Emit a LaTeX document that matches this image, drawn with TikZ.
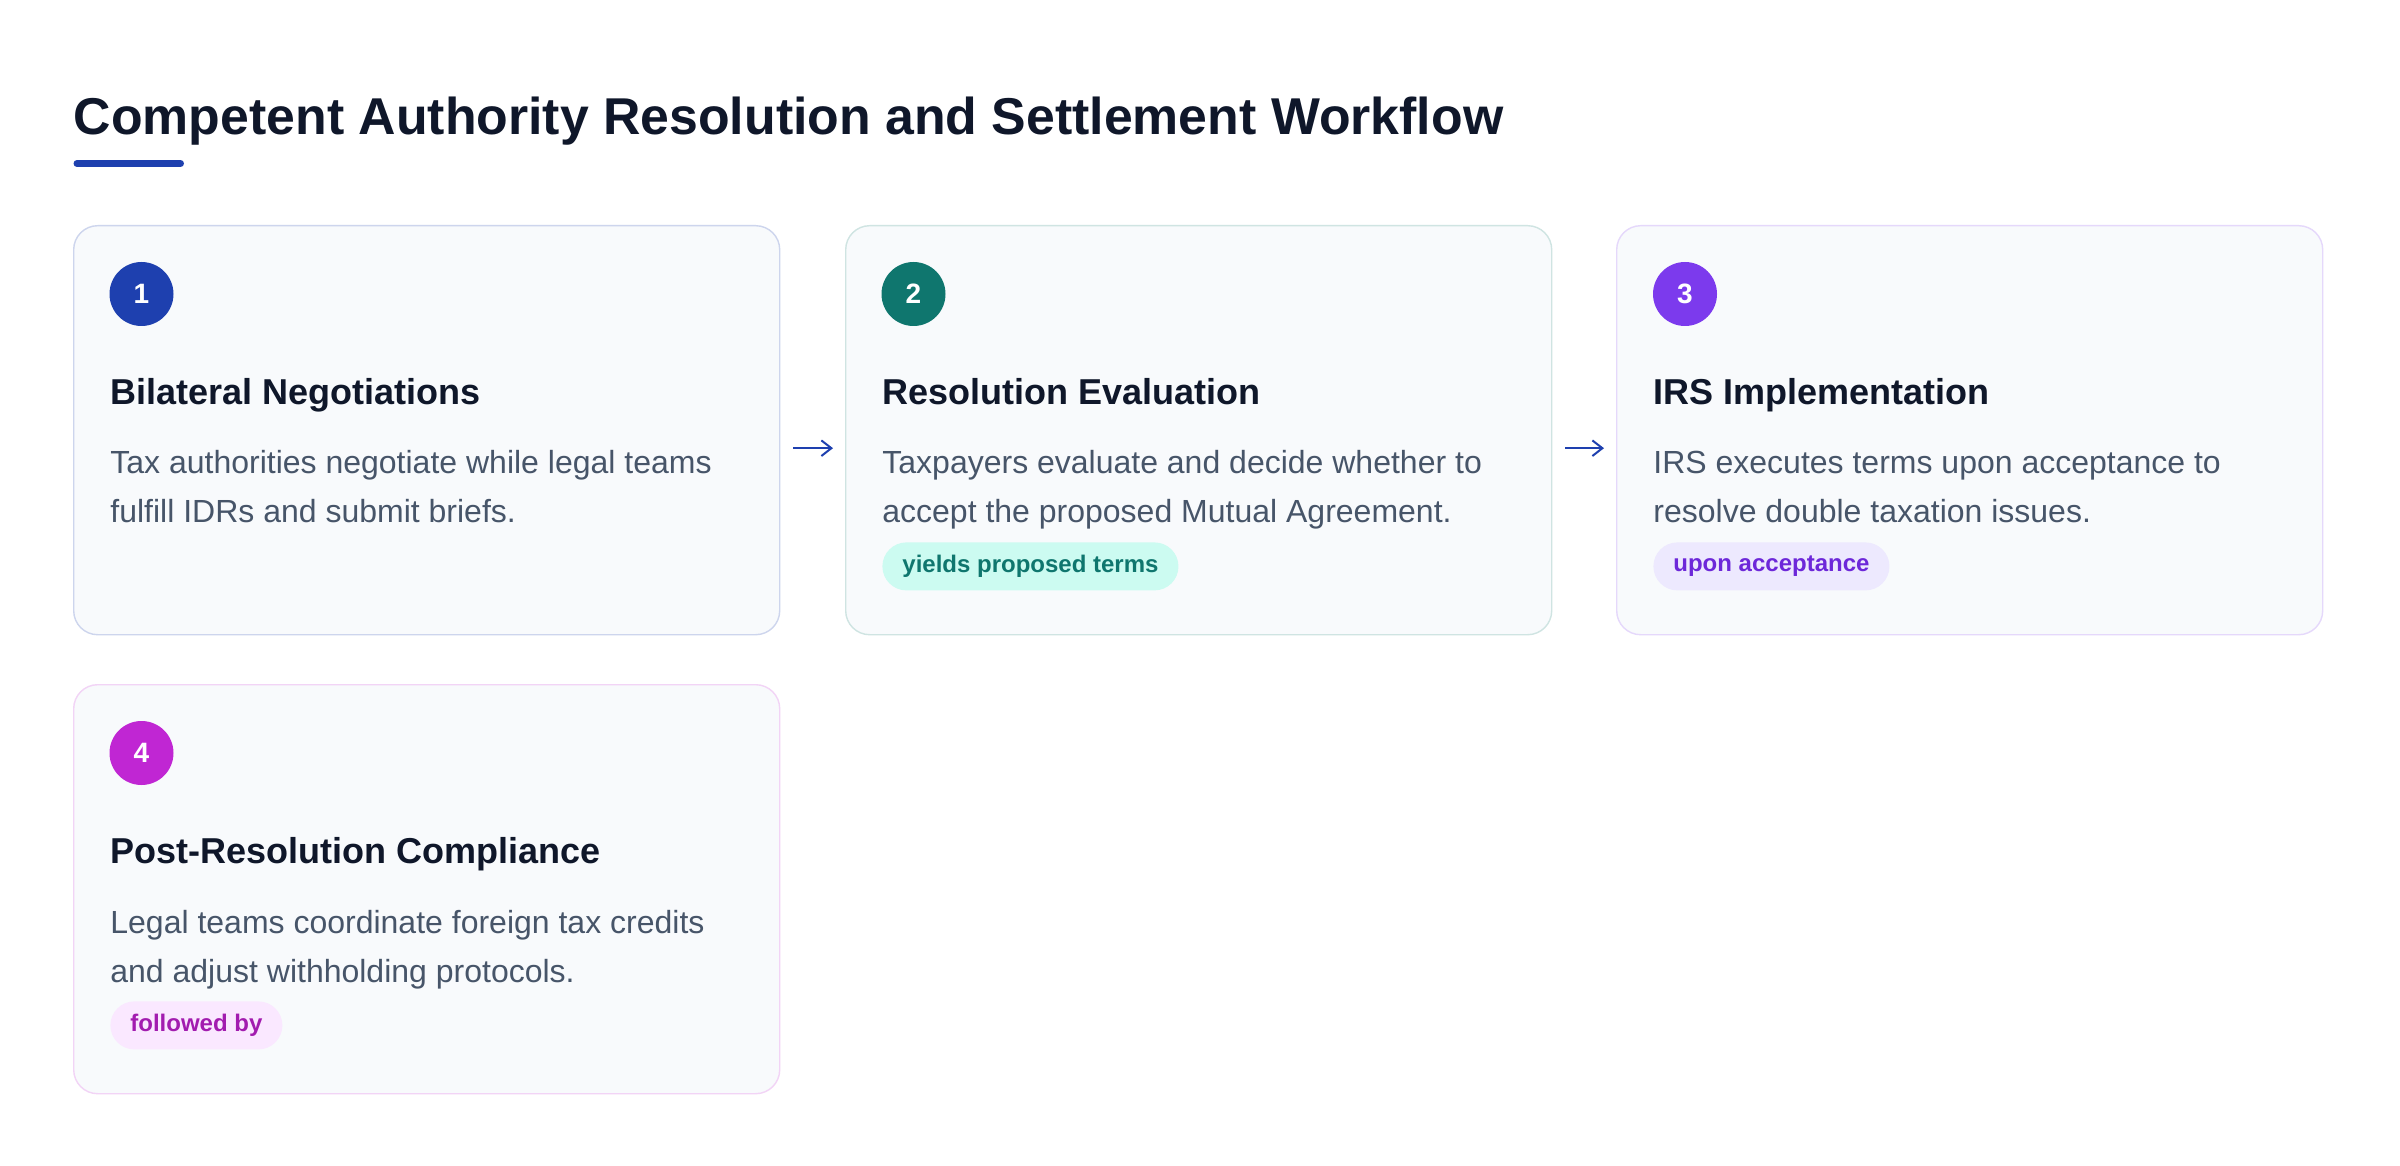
\documentclass[tikz,border=0pt]{standalone}
\usepackage{fontspec}
\setmainfont{Liberation Sans}
\usetikzlibrary{arrows.meta}
\definecolor{ink}{HTML}{0F172A}
\definecolor{slate}{HTML}{475569}
\definecolor{cardfill}{HTML}{F8FAFC}
\definecolor{stepblue}{HTML}{1E40AF}
\definecolor{stepteal}{HTML}{0F766E}
\definecolor{stepviolet}{HTML}{7C3AED}
\definecolor{stepfuchsia}{HTML}{C026D3}
\definecolor{tealtag}{HTML}{CCFBF1}
\definecolor{violettag}{HTML}{EDE9FE}
\definecolor{fuchsiatag}{HTML}{FAE8FF}
\definecolor{violettext}{HTML}{6D28D9}
\definecolor{fuchsiatext}{HTML}{A21CAF}
\tikzset{card/.style={draw,fill=cardfill,line width=0.7pt,rounded corners=12pt,
		minimum width=353pt,minimum height=204.5pt,anchor=north west,inner sep=0pt},
	number/.style={circle,minimum size=32pt,inner sep=0pt,text=white,
		font=\fontsize{14}{14}\selectfont\bfseries},
	heading/.style={anchor=base west,inner sep=0pt,text=ink,
		font=\fontsize{18}{18}\selectfont\bfseries},
	body/.style={anchor=base west,inner sep=0pt,text=slate,align=left,
		font=\fontsize{16}{24.2}\selectfont},
	tag/.style={rounded corners=12pt,inner xsep=10pt,inner ysep=0pt,minimum height=24pt,
		anchor=north west,font=\fontsize{12}{12}\selectfont\bfseries}}

\begin{document}
\begin{tikzpicture}[x=0.5pt,y=-0.5pt]
	\useasboundingbox[fill=white] (0,0) rectangle (2400,1166);
	% title
	\node[anchor=base west,inner sep=0pt,text=ink,font=\fontsize{25.9}{25.9}\selectfont\bfseries]
		(title) at (73.5,135) {Competent Authority Resolution and Settlement Workflow};
	\draw[stepblue,line width=3.5pt,line cap=round] (77,163.5) -- (180.5,163.5);
	% cards
	\node[card,draw=stepblue!22] (c1) at (73,225) {};
	\node[card,draw=stepteal!20] (c2) at (845,225) {};
	\node[card,draw=stepviolet!20] (c3) at (1616,225) {};
	\node[card,draw=stepfuchsia!20] (c4) at (73,684) {};
	% step 1
	\node[number,fill=stepblue] (n1) at (141.5,294) {1};
	\node[heading] (h1) at (110,404) {Bilateral Negotiations};
	\node[body] (b1) at (110,522) {Tax authorities negotiate while legal teams\\fulfill IDRs and submit briefs.};
	% step 2
	\node[number,fill=stepteal] (n2) at (913.5,294) {2};
	\node[heading] (h2) at (882,404) {Resolution Evaluation};
	\node[body] (b2) at (882,522) {Taxpayers evaluate and decide whether to\\accept the proposed Mutual Agreement.};
	\node[tag,fill=tealtag,text=stepteal] (t2) at (882,542) {yields proposed terms};
	% step 3
	\node[number,fill=stepviolet] (n3) at (1685,294) {3};
	\node[heading] (h3) at (1653,404) {IRS Implementation};
	\node[body] (b3) at (1653,522) {IRS executes terms upon acceptance to\\resolve double taxation issues.};
	\node[tag,fill=violettag,text=violettext] (t3) at (1653,542) {upon acceptance};
	% step 4
	\node[number,fill=stepfuchsia] (n4) at (141.5,753) {4};
	\node[heading] (h4) at (110,863.5) {Post-Resolution Compliance};
	\node[body] (b4) at (110,982) {Legal teams coordinate foreign tax credits\\and adjust withholding protocols.};
	\node[tag,fill=fuchsiatag,text=fuchsiatext] (t4) at (110,1001) {followed by};
	% arrows
	\begin{scope}[every path/.style={draw=stepblue,line width=0.8pt,-{Straight Barb[length=5pt,width=7.8pt,line width=1pt]},
			shorten <=6.5pt,shorten >=6pt}]
		\path ([yshift=-9pt]c1.east) -- ([yshift=-9pt]c2.west);
		\path ([yshift=-9pt]c2.east) -- ([yshift=-9pt]c3.west);
	\end{scope}
\end{tikzpicture}
\end{document}
